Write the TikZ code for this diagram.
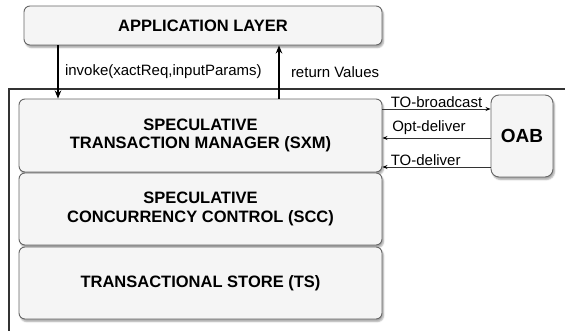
\documentclass[tikz,border=0pt]{standalone}
\usepackage{fontspec}
\setmainfont{Liberation Sans}
\usepackage{tikz}
\usetikzlibrary{arrows.meta}
\usetikzlibrary{calc,shadows.blur,positioning}

\definecolor{boxfill}{HTML}{F5F5F5}
\definecolor{boxline}{HTML}{666666}
\definecolor{frameline}{HTML}{333333}

\tikzset{
	layer/.style={rectangle,rounded corners=6pt,draw=boxline,fill=boxfill,line width=0.9pt,
		align=center,inner sep=0pt,font=\fontsize{16.5}{18.5}\selectfont\bfseries,
		blur shadow={shadow xshift=1.5pt,shadow yshift=-2.5pt,shadow blur radius=1.5pt,shadow opacity=35}},
	msg/.style={font=\fontsize{15}{17}\selectfont,inner sep=1pt},
}

\begin{document}
\begin{tikzpicture}[x=1pt,y=-1pt]
		\useasboundingbox (0,0) rectangle (565,331);

		% frame round the middleware
		\coordinate (frameR) at (565,89);
		\coordinate (frameC) at (9,89);
		\coordinate (frameB) at (9,331);
		\draw[frameline,line width=1.3pt] (frameR) -- (frameC) -- (frameB);

		\begin{scope}[every node/.style={layer}]
			\node[minimum width=358pt,minimum height=39pt] (app) at (203,25.5) {APPLICATION LAYER};
			\node[minimum width=363pt,minimum height=73pt] (sxm) at (200.5,135.5) {SPECULATIVE\\TRANSACTION MANAGER (SXM)};
			\node[minimum width=363pt,minimum height=72pt] (scc) at (200.5,209) {SPECULATIVE\\CONCURRENCY CONTROL (SCC)};
			\node[minimum width=363pt,minimum height=72pt] (ts) at (200.5,283) {TRANSACTIONAL STORE (TS)};
			\node[minimum width=62pt,minimum height=82pt,rounded corners=8pt,font=\fontsize{19}{21}\selectfont\bfseries] (oab) at (522,136) {OAB};
		\end{scope}

		\coordinate (inv) at (58,0);
		\coordinate (ret) at (279,0);
		\coordinate (tob) at (0,109);
		\coordinate (opt) at (0,138);
		\coordinate (tod) at (0,167);

		\begin{scope}[>={Stealth[black,length=8pt,width=6.5pt]},line width=2pt]
			\draw[->] (app.south -| inv) -- (sxm.north -| inv)
				node[msg,midway,right=5pt] {invoke(xactReq,inputParams)};
			\draw[->] (sxm.north -| ret) -- (app.south -| ret)
				node[msg,midway,right=10pt] {return Values};
		\end{scope}

		\begin{scope}[>={Stealth[black,length=5pt,width=4pt]},line width=0.9pt,draw=frameline]
			\draw[->] (sxm.east |- tob) -- (oab.west |- tob)
				node[msg,midway,above] {TO-broadcast};
			\draw[->] (oab.west |- opt) -- (sxm.east |- opt)
				node[msg,pos=0.57,above=2pt] {Opt-deliver};
			\draw[->] (oab.west |- tod) -- (sxm.east |- tod)
				node[msg,pos=0.6,above] {TO-deliver};
		\end{scope}
	\end{tikzpicture}
\end{document}
